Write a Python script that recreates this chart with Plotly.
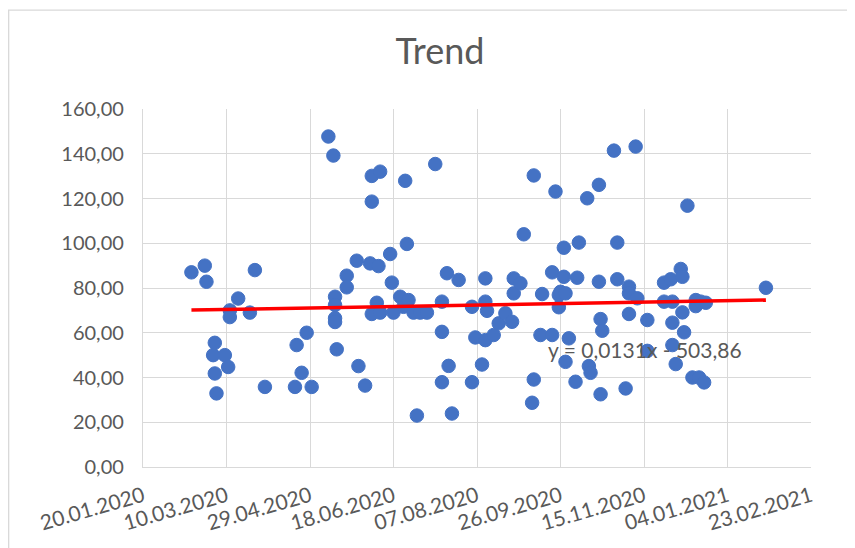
import plotly.graph_objects as go
import pandas as pd

dates = [
    "2020-02-18", "2020-02-26", "2020-02-27", "2020-03-27", "2020-03-17", "2020-03-12", "2020-03-12", "2020-03-24",
    "2020-03-03", "2020-03-02", "2020-03-09", "2020-03-11", "2020-03-03", "2020-03-04", "2020-04-02", "2020-04-21",
    "2020-04-27", "2020-04-24", "2020-04-20", "2020-04-30", "2020-05-10", "2020-05-13",
    "2020-05-14", "2020-05-14", "2020-05-14", "2020-05-14", "2020-05-15", "2020-05-21", "2020-05-21", "2020-05-27",
    "2020-05-28", "2020-06-01", "2020-06-04", "2020-06-05", "2020-06-05", "2020-06-05", "2020-06-08", "2020-06-09",
    "2020-06-10", "2020-06-10", "2020-06-16", "2020-06-17", "2020-06-18", "2020-06-22", "2020-06-24", "2020-06-25",
    "2020-06-26", "2020-06-27", "2020-06-30", "2020-07-02", "2020-07-04", "2020-07-08", "2020-07-13", "2020-07-17",
    "2020-07-17", "2020-07-17", "2020-07-20", "2020-07-21", "2020-07-23", "2020-07-27", "2020-08-04", "2020-08-04",
    "2020-08-06", "2020-08-10", "2020-08-12", "2020-08-12", "2020-08-13", "2020-08-12",
    "2020-08-17", "2020-08-20", "2020-08-24", "2020-08-28", "2020-08-29", "2020-08-29", "2020-09-02", "2020-09-04",
    "2020-09-09", "2020-09-10", "2020-09-10", "2020-09-14", "2020-09-15", "2020-09-21", "2020-09-21", "2020-09-23",
    "2020-09-25", "2020-09-25", "2020-09-26", "2020-09-28", "2020-09-28", "2020-09-29", "2020-09-29", "2020-10-01",
    "2020-10-05", "2020-10-06", "2020-10-07", "2020-10-12", "2020-10-13", "2020-10-14", "2020-10-19", "2020-10-19",
    "2020-10-20", "2020-10-20", "2020-10-21", "2020-10-28", "2020-10-30", "2020-10-30", "2020-11-04", "2020-11-06",
    "2020-11-06", "2020-11-06", "2020-11-10", "2020-11-11",
    "2020-11-17", "2020-11-17", "2020-11-27", "2020-11-27", "2020-12-01", "2020-12-02", "2020-12-02", "2020-12-02",
    "2020-12-04", "2020-12-07", "2020-12-08", "2020-12-08", "2020-12-09", "2020-12-11", "2020-12-14", "2020-12-16",
    "2020-12-16", "2020-12-18", "2020-12-19", "2020-12-21", "2020-12-22", "2021-01-27",
]
values = [
    87.0, 90.0, 82.8, 88.0, 75.3, 70.0, 67.0, 69.0,
    55.5, 50.0, 50.0, 44.7, 41.8, 32.9, 35.8, 54.5,
    60.0, 42.1, 35.8, 35.8, 147.7, 139.2,
    76.1, 72.4, 66.5, 64.8, 52.6, 85.5, 80.3, 92.2,
    45.1, 36.4, 91.0, 130.1, 118.6, 68.4, 73.4, 89.8,
    132.0, 69.0, 95.2, 82.4, 69.0, 76.1, 71.6, 127.9,
    99.7, 74.6, 69.0, 23.0, 69.0, 69.0, 135.4, 73.9,
    60.4, 37.9, 86.6, 45.2, 23.9, 83.6, 71.6, 37.9,
    57.9, 45.8, 84.3, 73.9, 69.8, 56.7,
    59.0, 64.2, 68.7, 64.9, 84.3, 77.6, 82.1, 104.0,
    28.7, 130.3, 39.1, 59.0, 77.3, 87.0, 59.0, 123.1,
    76.9, 71.4, 78.3, 98.0, 85.0, 77.6, 47.0, 57.5,
    38.1, 84.6, 100.3, 120.1, 45.1, 42.1, 126.1, 82.8,
    66.1, 32.5, 60.9, 141.4, 100.3, 83.9, 35.1, 80.6,
    77.6, 68.4, 143.2, 75.4,
    65.7, 51.9, 82.4, 73.9, 83.9, 73.9, 64.5, 54.5,
    46.0, 88.5, 85.0, 69.1, 60.2, 116.8, 40.0, 74.6,
    71.9, 40.0, 73.9, 37.8, 73.4, 80.1,
]

x_tick_labels = ["20.01.2020", "10.03.2020", "29.04.2020", "18.06.2020", "07.08.2020",
                 "26.09.2020", "15.11.2020", "04.01.2021", "23.02.2021"]
y_ticks = [0, 20, 40, 60, 80, 100, 120, 140, 160]

trend_slope = 0.013081
trend_intercept = -503.86
trend_label = "y = 0,0131x - 503,86"
title_text = "Trend"

dt = pd.to_datetime(dates)
x_ticks = pd.to_datetime(x_tick_labels, format="%d.%m.%Y")
excel_epoch = pd.Timestamp("1899-12-30")
t_ends = [dt.min(), dt.max()]
trend_y = [trend_slope * (t - excel_epoch).days + trend_intercept for t in t_ends]

fig = go.Figure()
fig.add_trace(go.Scatter(
    x=dt, y=values, mode="markers",
    marker=dict(color="#4472C4", size=13.5, line=dict(color="#4472C4", width=1)),
    showlegend=False, hoverinfo="x+y",
))
fig.add_trace(go.Scatter(
    x=t_ends, y=trend_y, mode="lines",
    line=dict(color="#FF0000", width=3.5),
    showlegend=False,
))

grid = "#D9D9D9"
txt = "#595959"
font_family = "Lato, 'Open Sans', sans-serif"

# page body adds an 8px offset; figure is sized so the plot area lands where the reference has it
fig.update_layout(
    width=847, height=540,
    margin=dict(l=135, r=44, t=101, b=81),
    paper_bgcolor="white", plot_bgcolor="white",
    separators=",.",
    font=dict(family=font_family, color=txt),
    title=dict(text=title_text, x=0.51, xanchor="center", y=0.92, yanchor="middle",
               font=dict(size=36, color=txt, family=font_family)),
    xaxis=dict(
        type="date",
        range=[x_ticks[0], x_ticks[-1]],
        tickmode="array", tickvals=x_ticks, ticktext=x_tick_labels,
        tickangle=-16,
        automargin=False,
        showgrid=True, gridcolor=grid, gridwidth=1.3,
        showline=True, linecolor=grid, linewidth=1.3, mirror=False,
        zeroline=False,
        ticks="outside", ticklen=8, tickcolor="rgba(0,0,0,0)",
        tickfont=dict(size=21, color=txt, family=font_family),
    ),
    yaxis=dict(
        range=[0, 160],
        tickmode="array", tickvals=y_ticks,
        tickformat=".2f",
        automargin=False,
        showgrid=True, gridcolor=grid, gridwidth=1.3,
        showline=True, linecolor=grid, linewidth=1.3,
        zeroline=False,
        ticks="outside", ticklen=14, tickcolor="rgba(0,0,0,0)",
        tickfont=dict(size=20, color=txt, family=font_family),
    ),
    annotations=[dict(
        text=trend_label, xref="paper", yref="paper",
        x=0.7514, y=0.329, xanchor="center", yanchor="middle",
        showarrow=False, font=dict(size=21, color=txt, family=font_family),
    )],
    shapes=[dict(
        type="path", xref="paper", yref="paper",
        path="M -0.2011,-0.3 L -0.2011,1.2764 L 1.2,1.2764",
        line=dict(color="#D9D9D9", width=1.3),
    )],
)

fig.write_html("out.html")
